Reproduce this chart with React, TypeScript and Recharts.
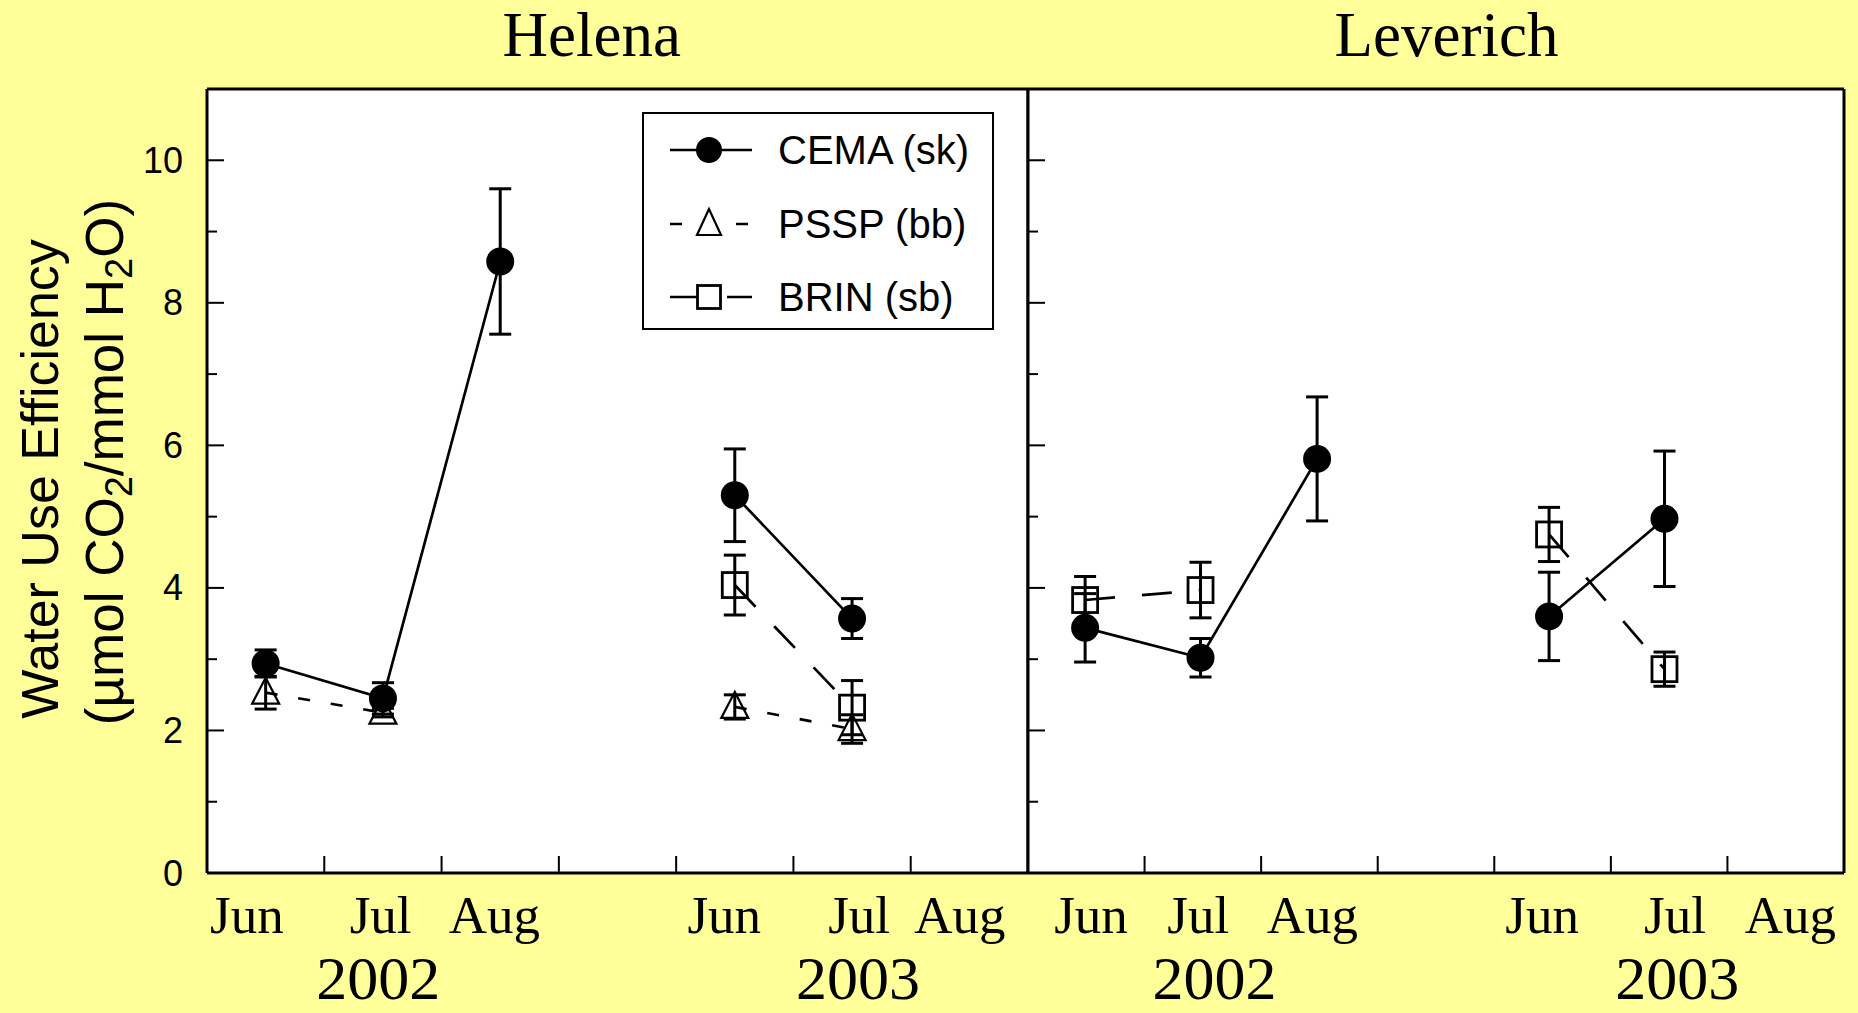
import React from 'react';
import { ComposedChart, Line, XAxis, YAxis, ErrorBar, CartesianGrid, Legend } from 'recharts';

// ---------- data ----------
const helenaMonths = [0.5, 1.5, 2.5, 4.5, 5.5];
const leverichMonths = [0.49, 1.48, 2.48, 4.47, 5.46];

const helenaCema = [2.94, 2.45, 8.58, 5.3, 3.57];
const helenaCemaErr = [0.19, 0.22, 1.02, 0.65, 0.28];
const helenaPssp = [2.53, 2.25, null, 2.33, 2.02];
const helenaPsspErr = [0.23, 0.06, null, 0.17, 0.2];
const helenaBrin = [null, null, null, 4.04, 2.32];
const helenaBrinErr = [null, null, null, 0.42, 0.38];

const leverichCema = [3.44, 3.02, 5.81, 3.6, 4.97];
const leverichCemaErr = [0.48, 0.27, 0.87, 0.62, 0.95];
const leverichBrin = [3.83, 3.97, null, 4.75, 2.86];
const leverichBrinErr = [0.33, 0.39, null, 0.38, 0.24];

const monthNames = ['Jun', 'Jul', 'Aug', 'Jun', 'Jul', 'Aug'];
const helenaMonthTicks = [0.34, 1.48, 2.45, 4.41, 5.56, 6.42];
const leverichMonthTicks = [0.54, 1.46, 2.44, 4.41, 5.55, 6.54];
const yearNames = ['2002', '2003'];
const helenaYearTicks = [1.46, 5.55];
const leverichYearTicks = [1.6, 5.57];
const helenaTitleTicks = [3.28];
const leverichTitleTicks = [3.59];
const frameTicks = [1, 2, 3, 4, 5, 6];
const yTicks = [0, 1, 2, 3, 4, 5, 6, 7, 8, 9, 10];

const seriesOrder = ['cema', 'pssp', 'brin'];
const seriesNames: Record<string, string> = {
  cema: 'CEMA (sk)',
  pssp: 'PSSP (bb)',
  brin: 'BRIN (sb)',
};

// ---------- build rows ----------
function buildRows(months: number[], series: Record<string, (number | null)[]>) {
  const rows: any[] = [];
  months.forEach((x, i) => {
    if (i === 3) {
      const gap: any = { x: (months[2] + months[3]) / 2 };
      Object.keys(series).forEach((k) => (gap[k] = null));
      rows.push(gap);
    }
    const r: any = { x };
    Object.keys(series).forEach((k) => (r[k] = series[k][i]));
    rows.push(r);
  });
  return rows;
}

const helenaRows = buildRows(helenaMonths, {
  cema: helenaCema,
  cemaErr: helenaCemaErr,
  pssp: helenaPssp,
  psspErr: helenaPsspErr,
  brin: helenaBrin,
  brinErr: helenaBrinErr,
});
const leverichRows = buildRows(leverichMonths, {
  cema: leverichCema,
  cemaErr: leverichCemaErr,
  brin: leverichBrin,
  brinErr: leverichBrinErr,
});

// ---------- styles ----------
const SERIF = "'Liberation Serif', 'Times New Roman', serif";
const SANS = "'Liberation Sans', Arial, sans-serif";
const dashes: Record<string, string | undefined> = { cema: undefined, pssp: '12 21', brin: '30 27' };

function MarkerShape({ kind, cx, cy, legend }: { kind: string; cx: number; cy: number; legend?: boolean }) {
  if (kind === 'cema') return <circle cx={cx} cy={cy} r={legend ? 13 : 14} fill="#000" />;
  if (kind === 'pssp') {
    const w = legend ? 12 : 13.5;
    return (
      <polygon
        points={`${cx},${cy - 15} ${cx - w},${cy + 11} ${cx + w},${cy + 11}`}
        fill={legend ? '#fff' : 'none'}
        stroke="#000"
        strokeWidth={2.2}
      />
    );
  }
  const h = legend ? 11.5 : 12.5;
  return <rect x={cx - h} y={cy - h} width={2 * h} height={2 * h} fill={legend ? '#fff' : 'none'} stroke="#000" strokeWidth={2.8} />;
}

function makeDot(kind: string) {
  return (props: any) => {
    const { cx, cy, index } = props;
    if (cx == null || cy == null || isNaN(cx) || isNaN(cy) || props.value == null) return <g key={`d-${kind}-${index}`} />;
    return (
      <g key={`d-${kind}-${index}`}>
        <MarkerShape kind={kind} cx={cx} cy={cy} />
      </g>
    );
  };
}

// ---------- ticks ----------
const BottomFrameTick = (props: any) => {
  const { x, y } = props;
  return <line x1={x} x2={x} y1={y} y2={y - 17} stroke="#000" strokeWidth={2} />;
};

const MonthTick = (props: any) => {
  const { x, y, index } = props;
  return (
    <text x={x} y={y + 59} textAnchor="middle" fontFamily={SERIF} fontSize={53} fill="#000">
      {monthNames[index]}
    </text>
  );
};

const YearTick = (props: any) => {
  const { x, y, index } = props;
  return (
    <text x={x} y={y + 124} textAnchor="middle" fontFamily={SERIF} fontSize={62} fill="#000">
      {yearNames[index]}
    </text>
  );
};

const makeTitleTick = (title: string) => (props: any) => {
  const { x, y } = props;
  return (
    <text x={x} y={y - 33} textAnchor="middle" fontFamily={SERIF} fontSize={63} fill="#000">
      {title}
    </text>
  );
};

const makeLeftTick = (showLabel: boolean) => (props: any) => {
  const { x, y, payload } = props;
  const major = payload.value % 2 === 0;
  return (
    <g>
      <line x1={x} x2={x + (major ? 17 : 10)} y1={y} y2={y} stroke="#000" strokeWidth={2} />
      {showLabel && major ? (
        <text x={x - 24} y={y + 12.5} textAnchor="end" fontFamily={SANS} fontSize={36} fill="#000">
          {payload.value}
        </text>
      ) : null}
    </g>
  );
};

const RightTick = (props: any) => {
  const { x, y, payload } = props;
  const major = payload.value % 2 === 0;
  return <line x1={x} x2={x - (major ? 17 : 10)} y1={y} y2={y} stroke="#000" strokeWidth={2} />;
};

// ---------- y title ----------
const YTitle = () => (
  <g fontFamily={SANS} fill="#000">
    <text transform="translate(58,479) rotate(-90)" textAnchor="middle" fontSize={52}>
      Water Use Efficiency
    </text>
    <text transform="translate(123,462) rotate(-90)" textAnchor="middle" fontSize={53}>
      (µmol CO
      <tspan fontSize={38} dy={9}>2</tspan>
      <tspan dy={-9}>/mmol H</tspan>
      <tspan fontSize={38} dy={9}>2</tspan>
      <tspan dy={-9}>O)</tspan>
    </text>
  </g>
);

// ---------- legend ----------
const rowsY = [38, 112, 185];
const LegendBox = (props: any) => {
  const payload = ((props.payload || []) as any[])
    .slice()
    .sort((a, b) => seriesOrder.indexOf(String(a.dataKey)) - seriesOrder.indexOf(String(b.dataKey)));
  return (
    <svg width={352} height={218} style={{ display: 'block' }}>
      <rect x={1} y={1} width={350} height={216} fill="#fff" stroke="#000" strokeWidth={2} />
      {payload.map((p: any, i: number) => {
        const key = String(p.dataKey);
        const y = rowsY[i];
        return (
          <g key={key}>
            <line x1={28} x2={110} y1={y} y2={y} stroke="#000" strokeWidth={2.5} strokeDasharray={dashes[key]} />
            <MarkerShape kind={key} cx={67} cy={y} legend />
            <text x={136} y={y + 14} fontFamily={SANS} fontSize={40} fill="#000">
              {p.value}
            </text>
          </g>
        );
      })}
    </svg>
  );
};

// ---------- panel ----------
interface PanelProps {
  rows: any[];
  keys: string[];
  width: number;
  margin: { top: number; right: number; bottom: number; left: number };
  monthTicks: number[];
  yearTicks: number[];
  titleTicks: number[];
  title: string;
  showYLabels: boolean;
  withLegend: boolean;
  withYTitle: boolean;
}

function Panel(p: PanelProps) {
  const axisLine = { stroke: '#000', strokeWidth: 3 };
  return (
    <ComposedChart width={p.width} height={1013} data={p.rows} margin={p.margin}>
      <CartesianGrid fill="#fff" horizontal={false} vertical={false} xAxisId="main" yAxisId="y" />
      <XAxis
        xAxisId="main"
        dataKey="x"
        type="number"
        domain={[0, 7]}
        ticks={frameTicks}
        interval={0}
        height={1}
        tickSize={0}
        tickMargin={0}
        axisLine={axisLine}
        tickLine={false}
        tick={BottomFrameTick}
      />
      <XAxis
        xAxisId="months"
        dataKey="x"
        type="number"
        domain={[0, 7]}
        ticks={p.monthTicks}
        interval={0}
        height={1}
        tickSize={0}
        tickMargin={0}
        axisLine={false}
        tickLine={false}
        tick={MonthTick}
      />
      <XAxis
        xAxisId="years"
        dataKey="x"
        type="number"
        domain={[0, 7]}
        ticks={p.yearTicks}
        interval={0}
        height={1}
        tickSize={0}
        tickMargin={0}
        axisLine={false}
        tickLine={false}
        tick={YearTick}
      />
      <XAxis
        xAxisId="top"
        orientation="top"
        dataKey="x"
        type="number"
        domain={[0, 7]}
        ticks={p.titleTicks}
        interval={0}
        height={1}
        tickSize={0}
        tickMargin={0}
        axisLine={axisLine}
        tickLine={false}
        tick={makeTitleTick(p.title)}
      />
      <YAxis
        yAxisId="y"
        type="number"
        domain={[0, 11]}
        ticks={yTicks}
        interval={0}
        width={1}
        tickSize={0}
        tickMargin={0}
        axisLine={axisLine}
        tickLine={false}
        tick={makeLeftTick(p.showYLabels)}
        label={p.withYTitle ? <YTitle /> : undefined}
      />
      <YAxis
        yAxisId="yr"
        orientation="right"
        type="number"
        domain={[0, 11]}
        ticks={yTicks}
        interval={0}
        width={1}
        tickSize={0}
        tickMargin={0}
        axisLine={axisLine}
        tickLine={false}
        tick={RightTick}
      />
      {p.keys.map((k) => (
        <Line
          key={k}
          xAxisId="main"
          yAxisId="y"
          dataKey={k}
          name={seriesNames[k]}
          stroke="#000"
          strokeWidth={2.7}
          strokeDasharray={dashes[k]}
          dot={makeDot(k)}
          activeDot={false}
          connectNulls={false}
          isAnimationActive={false}
        >
          <ErrorBar dataKey={`${k}Err`} width={11} strokeWidth={3} stroke="#000" direction="y" isAnimationActive={false} />
        </Line>
      ))}
      {p.withLegend ? (
        <Legend
          layout="horizontal"
          verticalAlign="middle"
          align="center"
          content={<LegendBox />}
          wrapperStyle={{ position: 'absolute', left: 642, top: 112, width: 352, height: 218 }}
        />
      ) : null}
    </ComposedChart>
  );
}

export default function App() {
  return (
    <div
      style={{
        position: 'absolute',
        left: 0,
        top: 0,
        width: 1858,
        height: 1013,
        background: '#FFFF99',
        overflow: 'hidden',
      }}
    >
      <div style={{ position: 'absolute', left: 0, top: 0 }}>
        <Panel
          rows={helenaRows}
          keys={['cema', 'pssp', 'brin']}
          width={1040}
          margin={{ top: 88, right: 11, bottom: 137, left: 206 }}
          monthTicks={helenaMonthTicks}
          yearTicks={helenaYearTicks}
          titleTicks={helenaTitleTicks}
          title="Helena"
          showYLabels
          withLegend
          withYTitle
        />
      </div>
      <div style={{ position: 'absolute', left: 1016, top: 0 }}>
        <Panel
          rows={leverichRows}
          keys={['cema', 'brin']}
          width={842}
          margin={{ top: 88, right: 13, bottom: 137, left: 11 }}
          monthTicks={leverichMonthTicks}
          yearTicks={leverichYearTicks}
          titleTicks={leverichTitleTicks}
          title="Leverich"
          showYLabels={false}
          withLegend={false}
          withYTitle={false}
        />
      </div>
    </div>
  );
}
